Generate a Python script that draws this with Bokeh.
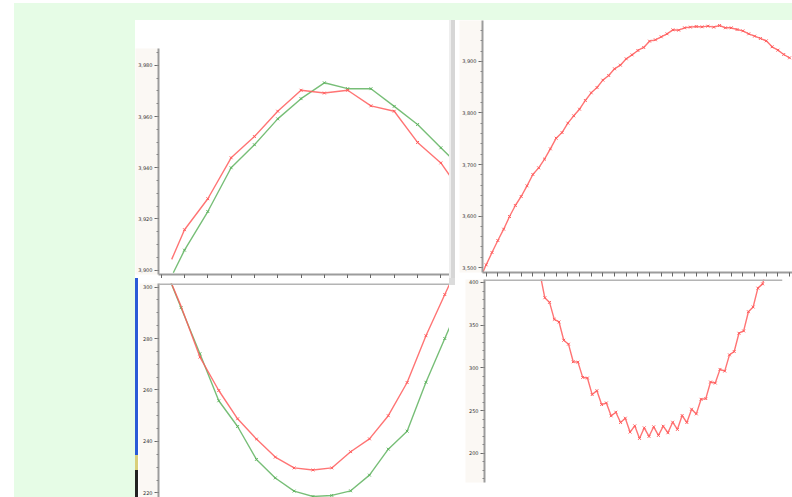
from bokeh.plotting import figure
from bokeh.models import Range1d, SingleIntervalTicker, NumeralTickFormatter, CustomJSTickFormatter, Span, Div
from bokeh.layouts import row, column
from bokeh.embed import file_html
from bokeh.resources import INLINE

# ---------------- data ----------------
# top-left panel
tl_red_x = [0.45, 1, 2, 3, 4, 5, 6, 7, 8, 9, 10, 11, 12, 13]
tl_red_y = [3904.2, 3915.8, 3927.9, 3943.9, 3952.2, 3962.1, 3970.3, 3969.2, 3970.3, 3964.2, 3962.1, 3949.9, 3941.9, 3929.0]
tl_green_x = [0.52, 1, 2, 3, 4, 5, 6, 7, 8, 9, 10, 11, 12, 13]
tl_green_y = [3899.0, 3907.8, 3922.9, 3940.0, 3949.0, 3959.1, 3967.0, 3973.2, 3970.9, 3970.9, 3964.0, 3956.9, 3947.8, 3939.0]

# bottom-left panel
bl_x = [-1, 0, 1, 2, 3, 4, 5, 6, 7, 8, 9, 10, 11, 12, 13, 14, 15]
bl_red_y = [310.0, 292.5, 272.8, 259.8, 248.8, 240.9, 233.9, 229.7, 228.9, 229.7, 236.0, 241.0, 250.0, 262.9, 281.1, 297.1, 313.0]
bl_green_y = [310.0, 292.0, 274.1, 255.8, 245.8, 233.0, 225.8, 220.7, 218.6, 219.0, 220.8, 226.9, 237.0, 244.0, 263.0, 280.0, 297.0]

# top-right panel
tr_y = [3480.0,
        3505.2, 3529.1, 3552.4, 3574.4, 3599.0, 3620.4, 3637.9, 3658.6, 3680.6, 3693.5,
        3710.4, 3730.4, 3751.1, 3762.1, 3780.3, 3794.5, 3807.4, 3824.3, 3839.2, 3849.5,
        3863.8, 3872.8, 3885.8, 3892.9, 3905.2, 3912.9, 3921.4, 3927.2, 3939.5, 3942.1,
        3947.9, 3953.7, 3961.5, 3960.8, 3965.4, 3966.7, 3968.0, 3967.3, 3968.6, 3966.7,
        3969.9, 3965.4, 3965.4, 3962.1, 3959.5, 3953.7, 3949.2, 3944.7, 3940.1, 3928.5,
        3922.0, 3913.6, 3907.1]
tr_x = list(range(-1, len(tr_y) - 1))

# bottom-right panel
br_y = [410.0,
        382.1, 376.7, 356.9, 353.8, 332.4, 327.8, 307.2, 306.8, 288.9, 288.2,
        268.8, 273.4, 257.1, 259.0, 243.9, 248.2, 236.1, 241.2, 224.9, 232.2,
        217.5, 229.9, 219.8, 231.1, 221.0, 231.8, 224.1, 236.5, 228.0, 244.3,
        236.1, 251.7, 246.2, 263.3, 264.1, 283.5, 282.3, 298.3, 296.3, 315.3,
        319.2, 340.6, 343.3, 365.8, 371.3, 393.4, 398.4,
        420.0]
br_x = list(range(-1, len(br_y) - 1))

RED = "#ff5c5c"
GREEN = "#5fb35f"
BEIGE = "#fbf8f4"
GREEN_BG = "#e6fce6"
FONT = "DejaVu Sans"


def blank(w, h, color="white"):
    return Div(text="", width=w, height=h, margin=0,
               styles={"background-color": color})


def style_axis(ax, label_size="5px"):
    ax.axis_line_color = "#9c9c9c"
    ax.axis_line_width = 2
    ax.major_tick_line_color = "#666666"
    ax.minor_tick_line_color = "#888888"
    ax.major_tick_out = 4
    ax.major_tick_in = 0
    ax.minor_tick_out = 2
    ax.minor_tick_in = 0
    ax.major_label_text_font = FONT
    ax.major_label_text_font_size = label_size
    ax.major_label_text_color = "#333333"
    ax.major_label_standoff = 2
    if "background_fill_color" in ax.properties():
        ax.background_fill_color = BEIGE


def make_fig(w, h, xr, yr, left, right, top, bottom, yint, ynminor, xint, show_x):
    p = figure(width=w, height=h, x_range=Range1d(*xr), y_range=Range1d(*yr),
               output_backend="svg", toolbar_location=None,
               x_axis_location="below" if show_x else None,
               min_border_left=left, min_border_right=right,
               min_border_top=top, min_border_bottom=bottom)
    p.grid.visible = False
    p.outline_line_color = None
    p.background_fill_color = "white"
    p.border_fill_color = "white"
    p.yaxis.ticker = SingleIntervalTicker(interval=yint, num_minor_ticks=ynminor)
    p.yaxis.formatter = NumeralTickFormatter(format="0,0")
    for ax in p.yaxis:
        style_axis(ax)
    if show_x:
        p.xaxis.ticker = SingleIntervalTicker(interval=xint, num_minor_ticks=0)
        p.xaxis.formatter = CustomJSTickFormatter(code="return ''")
        for ax in p.xaxis:
            style_axis(ax)
            ax.major_label_standoff = 0
            if "background_fill_color" in ax.properties():
                ax.background_fill_color = "white"
    return p


def series(p, xs, ys, color, m0, m1):
    p.line(xs, ys, line_color=color, line_width=1.4, line_alpha=0.85)
    p.scatter(xs[m0:m1], ys[m0:m1], marker="x", size=4, line_color=color, line_width=1)


# top-left
tl = make_fig(314, 230, (-0.116, 12.37), (3898.3, 3986.6), 23, 0, 0, 3, 20, 4, 1, True)
series(tl, tl_green_x, tl_green_y, GREEN, 1, -1)
series(tl, tl_red_x, tl_red_y, RED, 1, -1)

# top-right
tr = make_fig(337, 258, (-0.63, 52.5), (3490.3, 3979.6), 27, 0, 0, 6, 100, 5, 2, True)
series(tr, tr_x, tr_y, RED, 1, len(tr_y))

# bottom-left
bl = make_fig(311, 219, (-1.2, 14.25), (218.2, 301.4), 20, 0, 5, 0, 20, 4, 1, False)
series(bl, bl_x, bl_green_y, GREEN, 1, -1)
series(bl, bl_x, bl_red_y, RED, 2, -1)
bl.add_layout(Span(location=301.4, dimension="width", line_color="#b4b4b4", line_width=3))

# bottom-right
br = make_fig(337, 219, (-12.74, 50.2), (165.9, 403.5), 29, 10, 1, 15, 50, 5, 1, False)
series(br, br_x, br_y, RED, 1, -1)
br.add_layout(Span(location=403.5, dimension="width", line_color="#b4b4b4", line_width=3))

# separators / artifacts
sep = row(blank(2, 258, "#eeeeee"), blank(4, 258, "#d6d6d6"))
sep_bottom = column(blank(6, 7, "#dcdcdc"), blank(6, 212, "white"))
strip = column(blank(3, 177, "#2a5bd7"), blank(3, 15, "#d9cf7a"), blank(3, 27, "#222222"))

# each figure wrapped in its own column so frames are not aligned across the row
top_row = row(column(blank(314, 28), tl), sep, column(tr))
bottom_row = row(strip, column(bl), sep_bottom, column(br))
content = column(top_row, bottom_row)

green_area = column(blank(778, 17, GREEN_BG), row(blank(121, 477, GREEN_BG), content))
root = column(blank(792, 3), row(blank(14, 494), green_area))

open("out.html", "w").write(file_html(root, INLINE))
